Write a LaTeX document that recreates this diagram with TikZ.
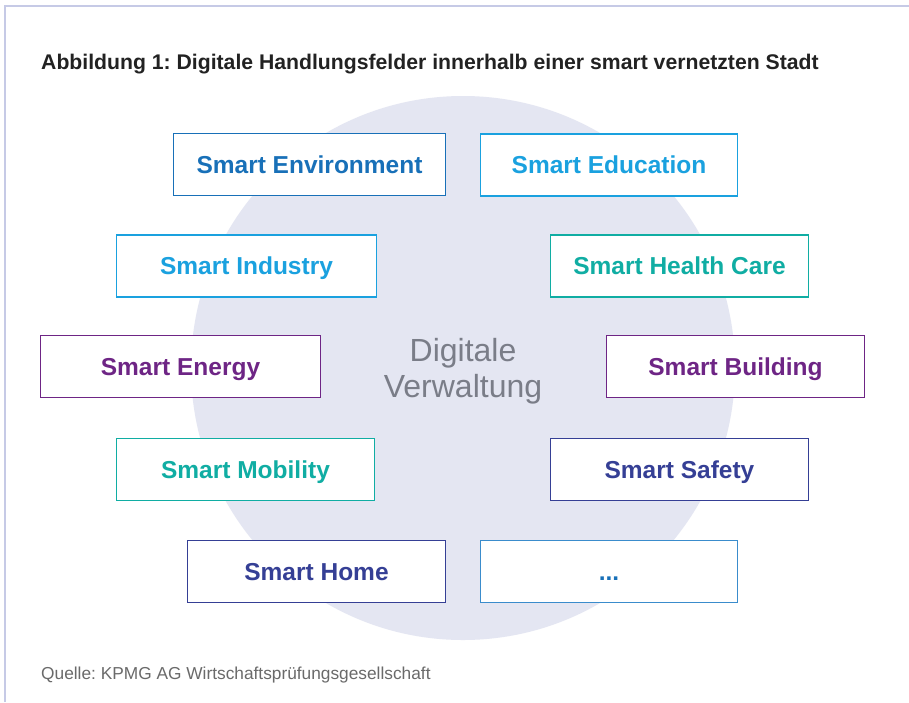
\documentclass[tikz,border=0pt]{standalone}
\usepackage{fontspec}
\setmainfont{Liberation Sans}
\frenchspacing
\definecolor{framec}{HTML}{C6CAE6}
\definecolor{circfill}{HTML}{E4E6F2}
\definecolor{envblue}{HTML}{1870B8}
\definecolor{lightblue}{HTML}{1AA1DF}
\definecolor{teal}{HTML}{10ADA3}
\definecolor{violet}{HTML}{6E2585}
\definecolor{navy}{HTML}{353F95}
\definecolor{dotsborder}{HTML}{3A8CCC}
\definecolor{centergray}{HTML}{7A7D88}
\definecolor{titlec}{HTML}{222222}
\definecolor{sourcec}{HTML}{6A6A6A}
\begin{document}
\begin{tikzpicture}[x=1pt,y=-1pt,
  field/.style={draw=#1, text=#1, line width=1.5pt, fill=white,
    minimum height=62pt, inner sep=0pt, text height=17.5pt, text depth=0pt,
    font=\bfseries\fontsize{24.5}{28}\selectfont},
  fieldwidth/.style={minimum width=#1}]
\useasboundingbox (0,0) rectangle (909,702);
\fill[white] (0,0) rectangle (909,702);
% outer frame (top and left edges)
\draw[framec, line width=2.5pt] (5,702) -- (5,6) -- (909,6);
% background disc
\fill[circfill] (463,368) circle (272pt);
% title and source
\node[anchor=base west, inner sep=0pt, text=titlec,
  font=\bfseries\fontsize{21.2}{25}\selectfont] (title) at (41,69)
  {Abbildung 1: Digitale Handlungsfelder innerhalb einer smart vernetzten Stadt};
\node[anchor=base west, inner sep=0pt, text=sourcec,
  font=\fontsize{17.3}{20}\selectfont] (source) at (41,679)
  {Quelle: KPMG AG Wirtschaftsprüfungsgesellschaft};
% centre label
\node[anchor=base, inner sep=0pt, text=centergray,
  font=\fontsize{32}{36}\selectfont] (center1) at (463,361) {Digitale};
\node[anchor=base, inner sep=0pt, text=centergray,
  font=\fontsize{32}{36}\selectfont] (center2) at (463,397) {Verwaltung};
% fields
\node[field=envblue, fieldwidth=272pt] (env) at (309.5,164.5) {Smart Environment};
\node[field=lightblue, fieldwidth=257pt] (edu) at (609,165) {Smart Education};
\node[field=lightblue, fieldwidth=260pt] (ind) at (246.5,266) {Smart Industry};
\node[field=teal, fieldwidth=258pt] (health) at (679.5,266) {Smart Health Care};
\node[field=violet, fieldwidth=280pt] (energy) at (180.5,366.5) {Smart Energy};
\node[field=violet, fieldwidth=258pt] (building) at (735.5,366.5) {Smart Building};
\node[field=teal, fieldwidth=258pt] (mobility) at (245.5,469.5) {Smart Mobility};
\node[field=navy, fieldwidth=258pt] (safety) at (679.5,469.5) {Smart Safety};
\node[field=navy, fieldwidth=258pt] (home) at (316.5,571.5) {Smart Home};
\node[field=envblue, draw=dotsborder, fieldwidth=257pt] (more) at (609,571.5) {...};
\end{tikzpicture}
\end{document}
